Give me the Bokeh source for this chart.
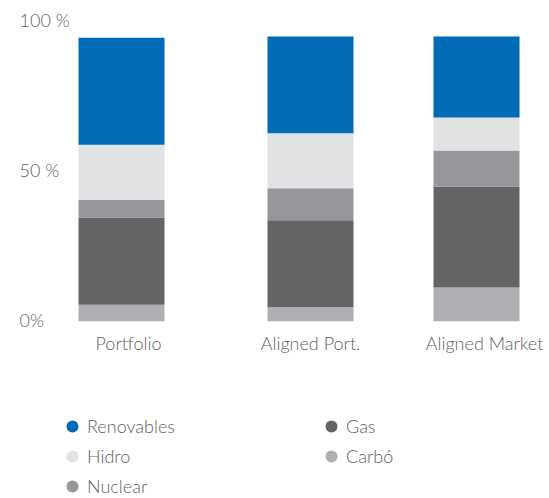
from bokeh.plotting import figure
from bokeh.models import Range1d, FixedTicker, Label, Legend, LegendItem, ColumnDataSource
from bokeh.embed import file_html
from bokeh.resources import INLINE

# ---- data ----
categories = ["Portfolio", "Aligned Port.", "Aligned Market"]
carbo = [5.5, 4.6, 11.2]
gas = [29.0, 29.0, 33.7]
nuclear = [6.0, 10.7, 12.0]
hidro = [18.3, 18.3, 11.0]
renovables = [35.7, 32.3, 27.0]
series_names = ["Carbó", "Gas", "Nuclear", "Hidro", "Renovables"]  # bottom -> top
legend_order = ["Renovables", "Gas", "Hidro", "Carbó", "Nuclear"]
y_ticks = [0, 50, 100]
y_tick_labels = ["0%", "50 %", "100 %"]

# ---- layout / style ----
W, H = 549, 498
bar_x = [121, 310, 476]
label_x = [128, 310, 484]
bar_w = 86
zero_px = 320.67
px_per_unit = 3.0
FONT = "Lato Light"
FS = "18px"
TXT = "#626262"
colors = {
    "Renovables": "#006BB6",
    "Hidro": "#E1E2E4",
    "Nuclear": "#96979A",
    "Gas": "#646466",
    "Carbó": "#AEAFB2",
}

keys = ["carbo", "gas", "nuclear", "hidro", "renovables"]
source = ColumnDataSource(dict(x=bar_x, carbo=carbo, gas=gas, nuclear=nuclear,
                               hidro=hidro, renovables=renovables))

p = figure(width=W, height=H, output_backend="svg", toolbar_location=None,
           x_range=Range1d(0, W),
           y_range=Range1d(-(H - zero_px) / px_per_unit, zero_px / px_per_unit),
           min_border=0)
p.outline_line_color = None
p.xgrid.visible = False
p.ygrid.visible = False
p.yaxis.visible = False

p.vbar_stack(keys, x="x", width=bar_w, source=source,
             fill_color=[colors[n] for n in series_names], line_color=None)

# x axis (category labels)
ax = p.xaxis[0]
ax.fixed_location = 0
ax.ticker = FixedTicker(ticks=label_x)
ax.major_label_overrides = {lx: c for lx, c in zip(label_x, categories)}
ax.axis_line_color = None
ax.major_tick_line_color = None
ax.minor_tick_line_color = None
ax.major_tick_in = 0
ax.major_tick_out = 0
ax.major_label_standoff = 11
ax.major_label_text_font = FONT
ax.major_label_text_font_size = FS
ax.major_label_text_color = TXT

# y tick labels (left aligned)
for v, t in zip(y_ticks, y_tick_labels):
    p.add_layout(Label(x=19, y=v, x_units="screen", y_units="data", text=t,
                       y_offset=1, text_align="left", text_baseline="middle",
                       text_font=FONT, text_font_size=FS, text_color=TXT))

# legend (marker-only renderers, no visible points)
nan = float("nan")
items = []
for name in legend_order:
    r = p.scatter(x=[nan], y=[nan], marker="circle", size=12,
                  fill_color=colors[name], line_color=None)
    items.append(LegendItem(label=name, renderers=[r]))
legend = Legend(items=items, orientation="horizontal", ncols=2, location=(57, -3),
                glyph_width=30, glyph_height=30, label_height=30, label_standoff=-2,
                label_width=229, spacing=0, padding=0, margin=0,
                border_line_color=None, background_fill_alpha=0,
                label_text_font=FONT, label_text_font_size=FS, label_text_color=TXT)
p.add_layout(legend)

open("out.html", "w").write(file_html(p, INLINE))
